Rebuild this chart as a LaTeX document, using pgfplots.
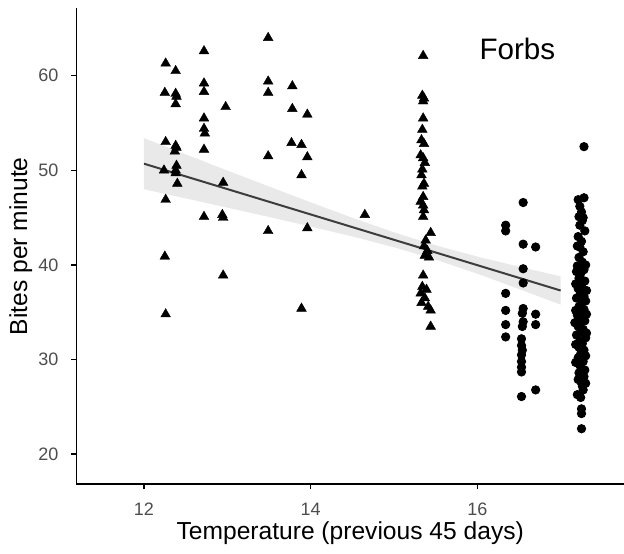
\documentclass[border=0pt]{standalone}
\usepackage{fontspec}
\setmainfont{Liberation Sans}
\usepackage{xcolor}
\usepackage{pgfplots}
\pgfplotsset{compat=1.18}
\definecolor{tickgray}{HTML}{4D4D4D}
\definecolor{bandgray}{HTML}{C6C6C6}
\definecolor{fitline}{HTML}{3D3D3D}

\begin{document}
\begin{tikzpicture}
\begin{axis}[
    name=ax,
    scale only axis,
    width=273.75pt,
    height=238pt,
    xmin=11.19, xmax=17.76,
    ymin=16.83, ymax=67.12,
    axis x line=bottom,
    axis y line=left,
    axis line style={-, line width=0.9pt, black},
    xtick={12,14,16},
    ytick={20,30,40,50,60},
    tick align=outside,
    major tick length=2.5pt,
    tick style={line width=0.8pt, black},
    /pgf/number format/assume math mode=true,
    ticklabel style={font=\fontsize{9}{10}\selectfont, text=tickgray},
    xticklabel style={yshift=-3.3pt},
    yticklabel style={xshift=-3pt},
    xlabel={Temperature (previous 45 days)},
    ylabel={Bites per minute},
    label style={font=\fontsize{12.3}{14}\selectfont},
    xlabel style={at={(axis description cs:0.5,-0.117)}, anchor=base},
    ylabel style={at={(axis description cs:-0.0904,0.5)}, anchor=base, rotate=0},
]
% triangles (cooler sites)
\addplot[only marks, mark=triangle*, mark size=2.8pt, mark options={fill=black, draw=black, line width=0.2pt}]
coordinates {
(12.26,61.3) (12.25,58.2) (12.26,53.0) (12.24,50.0) (12.26,46.9) (12.25,40.9) (12.26,34.8)
(12.38,60.5) (12.38,58.1) (12.39,57.8) (12.38,57.0) (12.38,52.6) (12.39,52.4) (12.37,52.0)
(12.39,50.5) (12.38,50.0) (12.38,49.7) (12.40,48.6)
(12.72,62.6) (12.72,59.2) (12.72,58.3) (12.72,55.5) (12.72,54.4) (12.73,53.9) (12.72,52.2) (12.72,45.1)
(12.98,56.7) (12.95,48.7) (12.94,45.3) (12.95,45.0) (12.95,38.9)
(13.49,64.0) (13.49,59.4) (13.49,58.2) (13.49,51.5) (13.49,43.6)
(13.78,58.9) (13.78,56.5) (13.77,52.9)
(13.89,52.7) (13.89,49.5) (13.89,35.4)
(13.96,55.9) (13.96,51.4) (13.96,43.9)
(14.65,45.3)
(15.35,62.1) (15.34,57.9) (15.36,57.6) (15.35,57.3) (15.35,55.5) (15.34,54.3) (15.33,53.2)
(15.36,52.8) (15.32,51.6) (15.35,51.3) (15.37,50.8) (15.34,50.1) (15.33,49.5) (15.36,48.6)
(15.34,48.3) (15.35,47.2) (15.32,46.7) (15.35,46.3) (15.36,45.8) (15.35,45.1) (15.44,43.4)
(15.38,42.6) (15.36,42.0) (15.40,41.5) (15.37,41.0) (15.42,40.8) (15.35,38.9) (15.34,37.7)
(15.39,37.4) (15.32,37.0) (15.37,36.5) (15.33,36.0) (15.41,35.6) (15.44,35.2) (15.44,33.5)
};
% circles (warmer sites)
\addplot[only marks, mark=*, mark size=2.1pt, mark options={fill=black, draw=black}]
coordinates {
(16.34,44.2) (16.34,43.6) (16.34,37.0) (16.34,35.2) (16.34,33.7) (16.34,32.4)
(16.55,46.6) (16.55,42.2) (16.55,39.6) (16.55,38.1) (16.55,35.4) (16.54,34.9) (16.55,34.0)
(16.54,33.5) (16.53,32.2) (16.53,31.5) (16.54,31.0) (16.53,30.5) (16.53,29.8) (16.53,29.2)
(16.53,28.7) (16.53,26.1)
(16.70,41.9) (16.70,34.8) (16.70,33.7) (16.70,26.8)
(17.28,52.5) (17.28,47.1) (17.21,46.9) (17.25,45.6) (17.22,45.1) (17.27,45.0) (17.23,44.2)
(17.21,43.0) (17.25,42.5) (17.23,41.9) (17.27,41.4) (17.22,40.8) (17.26,40.3) (17.20,39.9)
(17.28,39.5) (17.24,39.1) (17.22,38.6) (17.29,38.3) (17.25,37.9) (17.21,37.5) (17.27,37.1)
(17.23,36.8) (17.19,36.5) (17.30,36.2) (17.25,35.9) (17.22,35.6) (17.28,35.3) (17.24,35.0)
(17.20,34.7) (17.26,34.4) (17.29,34.1) (17.23,33.8) (17.21,33.5) (17.27,33.2) (17.25,32.9)
(17.19,32.6) (17.30,32.3) (17.23,32.0) (17.26,31.7) (17.22,31.3) (17.28,31.0) (17.24,30.6)
(17.21,30.2) (17.27,29.8) (17.23,29.4) (17.25,29.0) (17.22,28.6) (17.28,28.2) (17.24,27.7)
(17.26,27.2) (17.20,26.3) (17.25,24.8) (17.25,24.3) (17.25,22.7)
(17.29,43.6) (17.20,42.0) (17.30,40.0) (17.18,38.0) (17.31,37.3) (17.18,35.2) (17.31,34.8)
(17.17,33.9) (17.31,32.8) (17.18,31.6) (17.30,30.4) (17.18,29.7) (17.29,28.9) (17.21,27.9)
(17.27,26.8) (17.23,46.2) (17.26,44.7) (17.19,39.3) (17.28,36.7) (17.22,34.2) (17.26,30.9)
(17.24,26.0) (17.30,27.5)
};
% confidence band of the linear fit
\addplot[draw=none, fill=bandgray, fill opacity=0.38]
coordinates {
(12.00,53.40) (12.53,51.58) (13.03,49.88) (13.53,48.19) (14.03,46.52) (14.53,44.89)
(15.03,43.36) (15.53,42.00) (16.03,40.82) (16.53,39.76) (17.00,38.80)
(17.00,35.80) (16.53,37.36) (16.03,38.98) (15.53,40.48) (15.03,41.80) (14.53,42.95)
(14.03,44.00) (13.53,45.01) (13.03,46.00) (12.53,46.98) (12.00,48.00)
};
% fitted line
\addplot[fitline, line width=1pt] coordinates {(12.00,50.70) (17.00,37.30)};
\node[anchor=base, font=\fontsize{14.8}{16}\selectfont] at (axis cs:16.48,61.66) {Forbs};
\end{axis}
\pgfresetboundingbox
\path ([shift={(-38.25pt,-34.85pt)}]ax.south west) rectangle ([shift={(0pt,4.15pt)}]ax.north east);
\end{tikzpicture}
\end{document}
